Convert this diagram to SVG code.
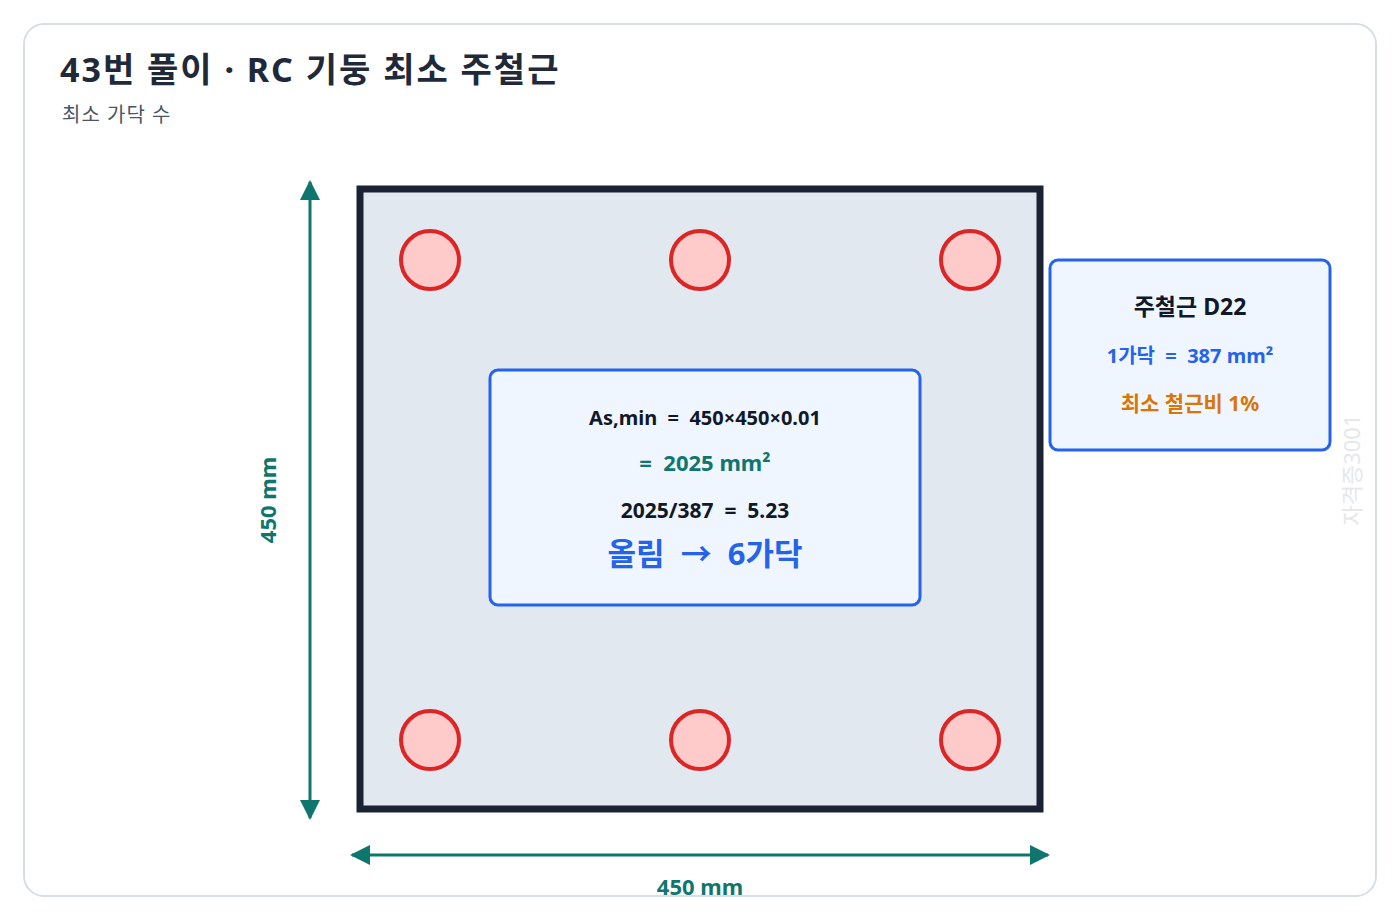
<svg xmlns="http://www.w3.org/2000/svg" width="1400" height="920" viewBox="0 0 1400 920">
<defs>
<style>
text{font-family:"Noto Sans","Noto Sans CJK KR",sans-serif;white-space:pre}
.bar{fill:#fecaca;stroke:#dc2626;stroke-width:4}
.dim{stroke:#0f766e;stroke-width:3;fill:none}
.dimt{fill:#0f766e;font-size:22px;font-weight:bold;text-anchor:middle}
.c{text-anchor:middle;font-weight:bold}
</style>
<marker id="a" viewBox="0 0 10 10" refX="9" refY="5" markerWidth="20" markerHeight="20" markerUnits="userSpaceOnUse" orient="auto-start-reverse">
<path d="M0,0 L10,5 L0,10 z" fill="#0f766e"/>
</marker>
</defs>
<rect width="1400" height="920" fill="#ffffff"/>
<rect x="24" y="24" width="1352" height="872" rx="20" fill="#fff" stroke="#d8dee8" stroke-width="2"/>
<text x="60" y="82" font-size="34" font-weight="bold" fill="#1f2937" letter-spacing="2">43번 풀이 · RC 기둥 최소 주철근</text>
<text x="62" y="122" font-size="20" fill="#4b5563" letter-spacing="1">최소 가닥 수</text>
<text transform="translate(1360,470) rotate(-90)" font-size="22" fill="#e5e7eb" text-anchor="middle">자격증3001</text>
<g id="column">
<rect x="360" y="189" width="680" height="620" fill="#e2e8f0" stroke="#1a2233" stroke-width="7"/>
</g>
<g id="bars">
<circle class="bar" cx="430" cy="260" r="29"/><circle class="bar" cx="700" cy="260" r="29"/><circle class="bar" cx="970" cy="260" r="29"/>
<circle class="bar" cx="430" cy="740" r="29"/><circle class="bar" cx="700" cy="740" r="29"/><circle class="bar" cx="970" cy="740" r="29"/>
</g>
<g id="calc">
<rect x="490" y="370" width="430" height="235" rx="8" fill="#eff6ff" stroke="#2563eb" stroke-width="3"/>
<text class="c" x="705" y="425" font-size="20" fill="#111827">As,min  =  450×450×0.01</text>
<text class="c" x="705" y="471" font-size="22" fill="#0f766e">=  2025 mm²</text>
<text class="c" x="705" y="518" font-size="21" fill="#111827">2025/387  =  5.23</text>
<text class="c" x="705" y="565" font-size="31" fill="#2563eb">올림  →  6가닥</text>
</g>
<g id="info">
<rect x="1050" y="260" width="280" height="190" rx="8" fill="#eff6ff" stroke="#2563eb" stroke-width="3"/>
<text class="c" x="1190" y="315" font-size="23" fill="#111827">주철근 D22</text>
<text class="c" x="1190" y="363" font-size="20" fill="#2563eb">1가닥  =  387 mm²</text>
<text class="c" x="1190" y="411" font-size="21" fill="#d97706">최소 철근비 1%</text>
</g>
<g id="connectors">
<line class="dim" x1="310" y1="182" x2="310" y2="818" marker-start="url(#a)" marker-end="url(#a)"/>
<line class="dim" x1="352" y1="855" x2="1048" y2="855" marker-start="url(#a)" marker-end="url(#a)"/>
</g>
<text class="dimt" transform="translate(276,500) rotate(-90)">450 mm</text>
<text class="dimt" x="700" y="895">450 mm</text>
</svg>
